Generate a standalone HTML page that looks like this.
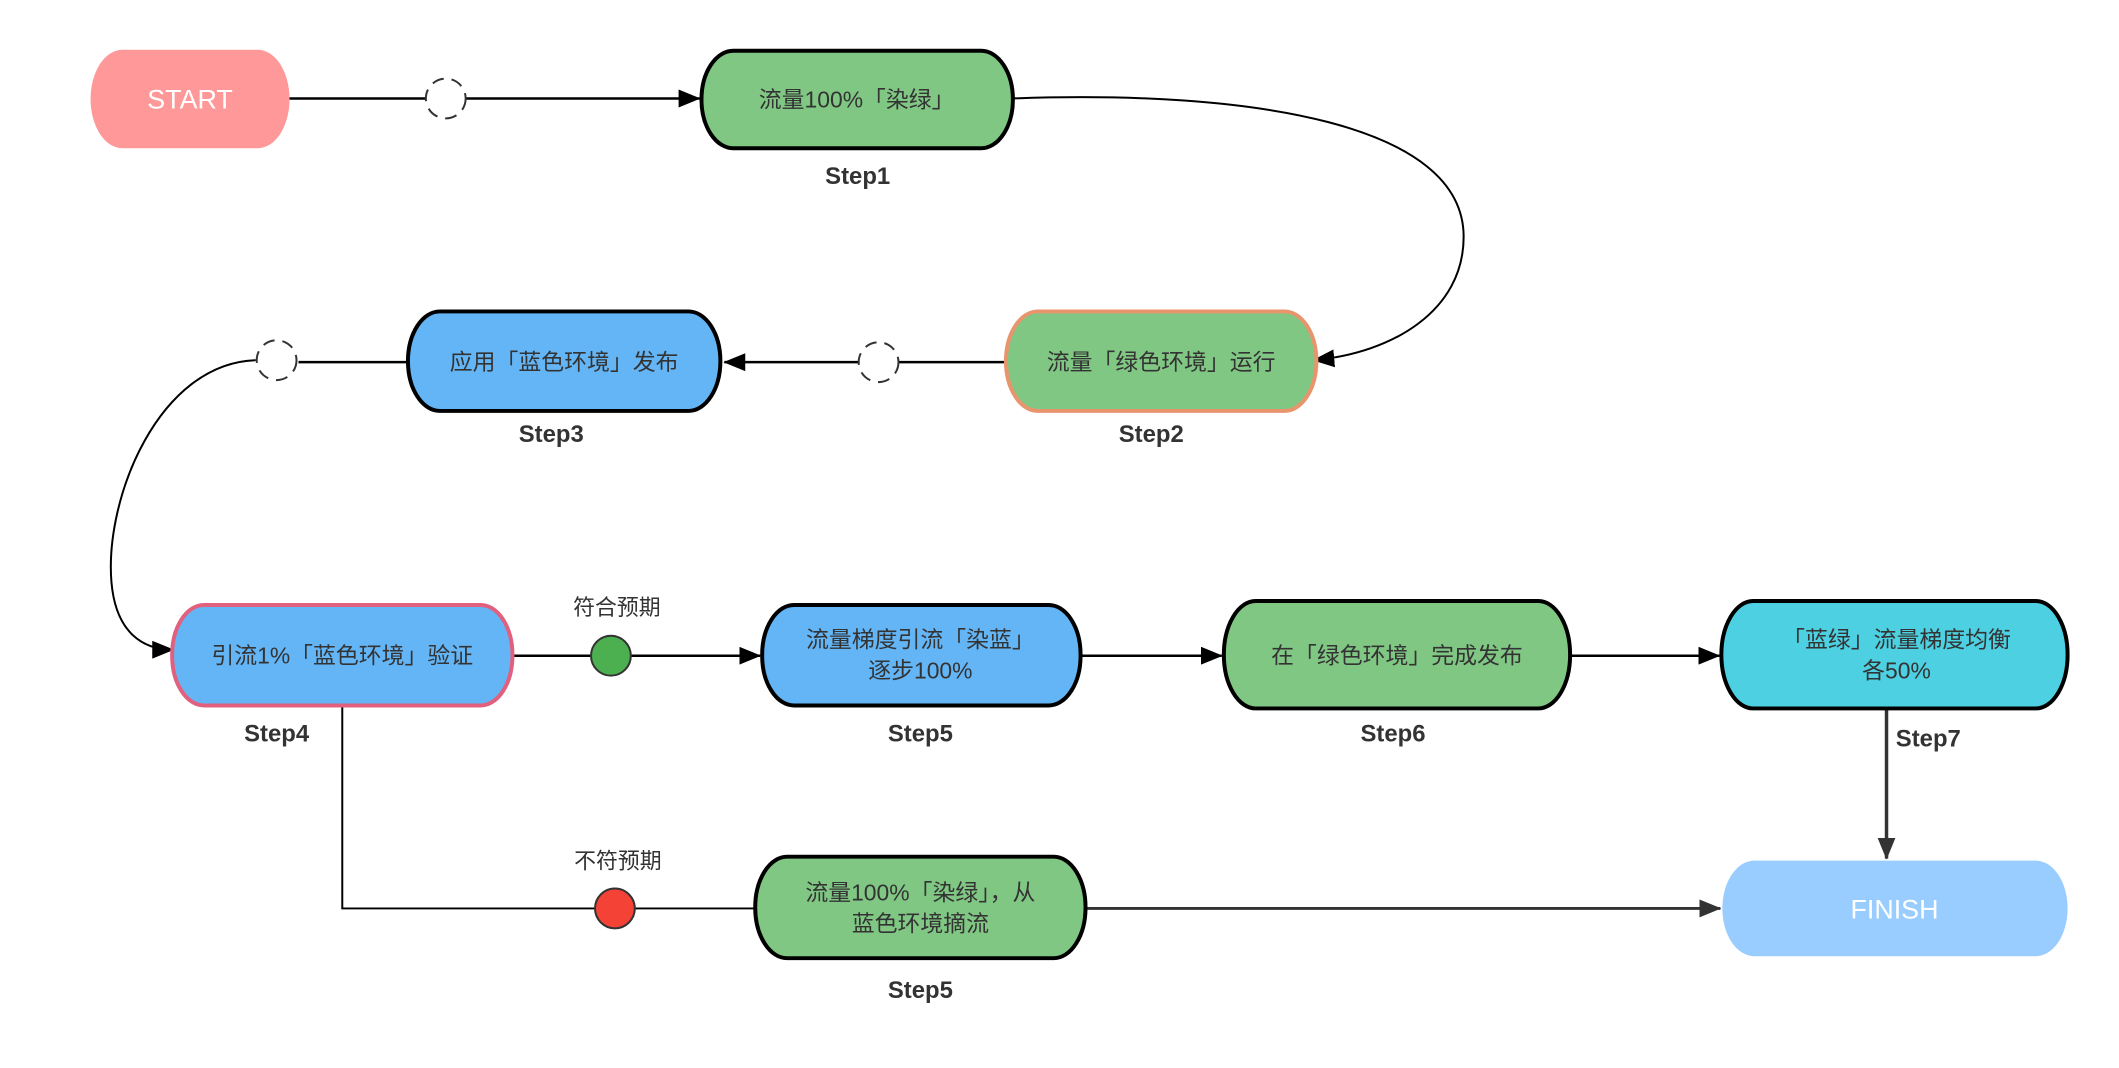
<!DOCTYPE html>
<html><head><meta charset="utf-8"><style>
html,body{margin:0;padding:0;background:#fff;}
svg{display:block;}
text{font-family:"Liberation Sans","Noto Sans CJK SC",sans-serif;}
.n{font-size:23px;fill:#333;text-anchor:middle;}
.s{font-size:24px;font-weight:bold;fill:#333;text-anchor:middle;}
.w{font-size:27px;fill:#fff;text-anchor:middle;}
.l{font-size:22px;fill:#333;text-anchor:middle;}
</style></head><body>
<svg width="2119" height="1068" viewBox="0 0 2119 1068" xmlns="http://www.w3.org/2000/svg">
<defs>
<marker id="a" markerWidth="22" markerHeight="18" refX="21" refY="9" orient="auto" markerUnits="userSpaceOnUse"><path d="M0,0 L22,9 L0,18 Z" fill="#000"/></marker>
<marker id="g" markerWidth="22" markerHeight="18" refX="21" refY="9" orient="auto" markerUnits="userSpaceOnUse"><path d="M0,0 L22,9 L0,18 Z" fill="#333"/></marker>
</defs>
<g transform="scale(0.995)">
<g fill="none" stroke="#000" stroke-width="2.5">
<path d="M291,99 L428,99 M468,99 L703,99" marker-end="url(#a)"/>
<path d="M1016,99 C1260,90 1471,125 1471,238 C1471,312 1400,355 1320,362" stroke-width="2" marker-end="url(#a)"/>
<path d="M1010,364 L903,364 M863,364 L728,364" marker-end="url(#a)"/>
<path d="M410,364 L300,364"/>
<path d="M257,362 C160,365 105,500 112,585 C116,632 140,653 174,653" stroke-width="2" marker-end="url(#a)"/>
<path d="M515,659 L764,659" marker-end="url(#a)"/>
<path d="M1086,659 L1228,659" marker-end="url(#a)"/>
<path d="M1578,659 L1728,659" marker-end="url(#a)"/>
<path d="M344,709 L344,913 L758,913" stroke-width="2"/>
</g>
<path d="M1896,713 L1896,863" stroke="#333" stroke-width="3.5" fill="none" marker-end="url(#g)"/>
<path d="M1091,913 L1729,913" stroke="#333" stroke-width="3" fill="none" marker-end="url(#g)"/>
<g fill="#fff" stroke="#333" stroke-width="2" stroke-dasharray="12,8">
<circle cx="448" cy="99" r="20"/>
<circle cx="883" cy="364" r="20"/>
<circle cx="278" cy="362" r="20"/>
</g>
<circle cx="614" cy="659" r="20" fill="#4caf50" stroke="#333" stroke-width="2"/>
<circle cx="618" cy="913" r="20" fill="#f44336" stroke="#333" stroke-width="2"/>
<rect x="91" y="50" width="200" height="99" rx="32" ry="50" fill="#ff9999"/>
<text class="w" x="191" y="109">START</text>
<rect x="705" y="51" width="313" height="98" rx="32" ry="50" fill="#81c784" stroke="#000" stroke-width="4"/>
<text class="n" x="861" y="108">流量100%「染绿」</text>
<text class="s" x="862" y="185">Step1</text>
<rect x="1011" y="313" width="312" height="100" rx="32" ry="50" fill="#81c784" stroke="#e8956d" stroke-width="4"/>
<text class="n" x="1167" y="372">流量「绿色环境」运行</text>
<text class="s" x="1157" y="444">Step2</text>
<rect x="410" y="313" width="314" height="100" rx="32" ry="50" fill="#64b5f6" stroke="#000" stroke-width="4"/>
<text class="n" x="567" y="372">应用「蓝色环境」发布</text>
<text class="s" x="554" y="444">Step3</text>
<rect x="173" y="608" width="342" height="101" rx="32" ry="50" fill="#64b5f6" stroke="#e0607e" stroke-width="4"/>
<text class="n" x="344" y="667">引流1%「蓝色环境」验证</text>
<text class="s" x="278" y="745">Step4</text>
<text class="l" x="620" y="618">符合预期</text>
<rect x="766" y="608" width="320" height="101" rx="32" ry="50" fill="#64b5f6" stroke="#000" stroke-width="4"/>
<text class="n" x="925" y="651">流量梯度引流「染蓝」</text>
<text class="n" x="925" y="682">逐步100%</text>
<text class="s" x="925" y="745">Step5</text>
<rect x="1230" y="604" width="348" height="108" rx="32" ry="54" fill="#81c784" stroke="#000" stroke-width="4"/>
<text class="n" x="1404" y="667">在「绿色环境」完成发布</text>
<text class="s" x="1400" y="745">Step6</text>
<rect x="1730" y="604" width="348" height="108" rx="32" ry="54" fill="#4dd0e1" stroke="#000" stroke-width="4"/>
<text class="n" x="1906" y="651">「蓝绿」流量梯度均衡</text>
<text class="n" x="1906" y="682">各50%</text>
<text class="s" x="1938" y="750">Step7</text>
<rect x="1731" y="865" width="347" height="96" rx="32" ry="48" fill="#99ccff"/>
<text class="w" x="1904" y="923">FINISH</text>
<text class="l" x="621" y="873">不符预期</text>
<rect x="759" y="861" width="332" height="102" rx="32" ry="51" fill="#81c784" stroke="#000" stroke-width="4"/>
<text class="n" x="925" y="905">流量100%「染绿」，从</text>
<text class="n" x="925" y="936">蓝色环境摘流</text>
<text class="s" x="925" y="1003">Step5</text>
</g>
</svg>
</body></html>
